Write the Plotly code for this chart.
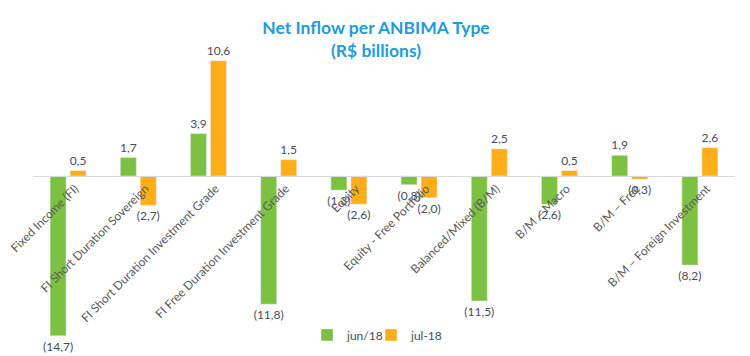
import plotly.graph_objects as go

categories = [
    "Fixed Income (FI)",
    "FI Short Duration Sovereign",
    "FI Short Duration Investment Grade",
    "FI Free Duration Investment Grade",
    "Equity",
    "Equity - Free Portfolio",
    "Balanced/Mixed (B/M)",
    "B/M – Macro",
    "B/M – Free",
    "B/M – Foreign Investment",
]
jun18 = [-14.7, 1.7, 3.9, -11.8, -1.3, -0.8, -11.5, -2.6, 1.9, -8.2]
jul18 = [0.5, -2.7, 10.6, 1.5, -2.6, -2.0, 2.5, 0.5, -0.3, 2.6]


def fmt(v):
    s = f"{abs(v):.1f}".replace(".", ",")
    return f"({s})" if v < 0 else s


GREEN = "#7DC142"
ORANGE = "#FFAE1A"
TXT = "#474b5c"
FONT = "Lato"

ymin, ymax = -15.0, 11.5
H = 356
OFF = 8  # page body margin offset
L, R = 33 - OFF, 15 + OFF
PW = 750 - L - R

fig = go.Figure()
series = [("jun/18", jun18, GREEN, "legend", 307), ("jul-18", jul18, ORANGE, "legend2", 371)]
for name, vals, col, leg, _ in series:
    fig.add_trace(go.Bar(
        x=categories, y=vals, name=name, marker_color=col, legend=leg,
        text=[fmt(v) for v in vals], textposition="outside",
        textfont=dict(family=FONT, size=12, color=TXT),
        constraintext="none", cliponaxis=False,
    ))

leg_common = dict(
    orientation="h", xanchor="left", y=0.014, yanchor="middle",
    font=dict(family=FONT, size=12, color=TXT), itemwidth=30,
    bgcolor="rgba(0,0,0,0)",
)

fig.update_layout(
    width=750, height=H,
    margin=dict(l=L, r=R, t=51 - OFF, b=17 + OFF, autoexpand=False),
    paper_bgcolor="white", plot_bgcolor="white",
    barmode="group", bargap=0.43, bargroupgap=0.2,
    title=dict(
        text="<b>Net Inflow per ANBIMA Type<br>(R$ billions)</b>",
        x=(376 - OFF) / 750, xanchor="center", yref="container",
        y=(H - (34 - OFF)) / H, yanchor="middle",
        font=dict(family=FONT, size=17.5, color="#1E9BDC"),
    ),
    font=dict(family=FONT, size=12, color="#595959"),
    showlegend=True,
    legend=dict(x=(series[0][4] - OFF - L) / PW, **leg_common),
    legend2=dict(x=(series[1][4] - OFF - L) / PW, **leg_common),
    xaxis=dict(
        anchor="free", position=(0 - ymin) / (ymax - ymin), automargin=False,
        showline=True, linecolor="#D9D9D9", linewidth=1,
        ticks="", tickangle=-45, showgrid=False, ticklabelshift=7,
        tickfont=dict(family=FONT, size=12, color="#595959"),
    ),
    yaxis=dict(
        range=[ymin, ymax], showgrid=False, zeroline=False, automargin=False,
        showticklabels=False, showline=False,
    ),
)

fig.write_html("out.html")
